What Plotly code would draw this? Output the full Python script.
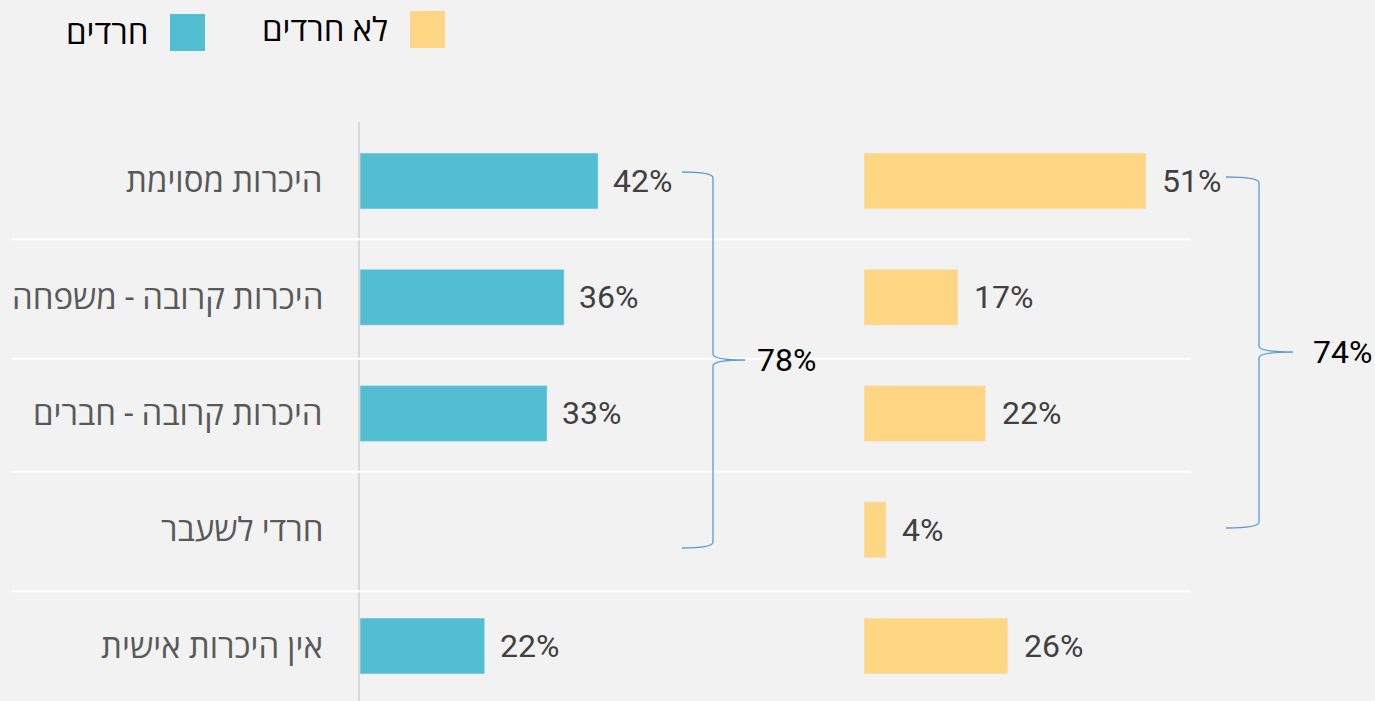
import plotly.graph_objects as go

# ---------------- data ----------------
categories = ["היכרות מסוימת", "היכרות קרובה - משפחה", "היכרות קרובה - חברים",
              "חרדי לשעבר", "אין היכרות אישית"]
series_names = ["חרדים", "לא חרדים"]
haredi = [42, 36, 33, None, 22]
non_haredi = [51, 17, 22, 4, 26]
haredi_total = 78
non_haredi_total = 74

# ---------------- styling ----------------
W, H = 1375, 701
BG = "#f2f2f2"
BLUE = "#53bdd2"
YELLOW = "#ffd784"
BRACE = "#5b9bd5"
FONT = "Roboto, 'Open Sans', sans-serif"


def fx(px):
    return px / W


def fy(py):
    return 1 - py / H


ypos = list(range(len(categories)))

fig = go.Figure()
fig.add_trace(go.Bar(y=ypos, x=haredi, orientation="h", marker_color=BLUE,
                     width=0.48, name=series_names[0], xaxis="x", yaxis="y",
                     showlegend=False, hoverinfo="skip"))
fig.add_trace(go.Bar(y=ypos, x=non_haredi, orientation="h", marker_color=YELLOW,
                     width=0.48, name=series_names[1], xaxis="x2", yaxis="y",
                     showlegend=False, hoverinfo="skip"))

annotations = []
# category labels
for i, c in enumerate(categories):
    annotations.append(dict(x=fx(325), xref="paper", y=i, yref="y", text=c,
                            xanchor="right", yanchor="middle", showarrow=False,
                            font=dict(size=33, color="#595959", family=FONT)))
# value labels
for i, v in enumerate(haredi):
    if v is not None:
        annotations.append(dict(x=v, xref="x", y=i, yref="y", text=f"{v}%",
                                xanchor="left", yanchor="middle", xshift=13,
                                showarrow=False,
                                font=dict(size=32, color="#404040", family=FONT)))
for i, v in enumerate(non_haredi):
    if v is not None:
        annotations.append(dict(x=v, xref="x2", y=i, yref="y", text=f"{v}%",
                                xanchor="left", yanchor="middle", xshift=14,
                                showarrow=False,
                                font=dict(size=32, color="#404040", family=FONT)))

# brace labels
annotations.append(dict(x=fx(755), xref="paper", y=fy(360), yref="paper",
                        text=f"{haredi_total}%", xanchor="left", yanchor="middle",
                        showarrow=False, font=dict(size=32, color="#000000", family=FONT)))
annotations.append(dict(x=fx(1311), xref="paper", y=fy(352), yref="paper",
                        text=f"{non_haredi_total}%", xanchor="left", yanchor="middle",
                        showarrow=False, font=dict(size=32, color="#000000", family=FONT)))

# legend (RTL style: swatch on the right of text)
legend_items = [(series_names[1], YELLOW, 410, 11, 390), (series_names[0], BLUE, 170, 14, 150)]
shapes = []
for name, col, sx, sy, tx in legend_items:
    shapes.append(dict(type="rect", xref="paper", yref="paper",
                       x0=fx(sx), x1=fx(sx + 35), y0=fy(sy), y1=fy(sy + 37),
                       fillcolor=col, line=dict(width=0)))
    annotations.append(dict(x=fx(tx), xref="paper", y=fy(sy + 19), yref="paper",
                            text=name, xanchor="right", yanchor="middle",
                            showarrow=False,
                            font=dict(size=33, color="#000000", family=FONT)))

# separator lines between rows
for k in range(len(categories) - 1):
    off = 0.03 if k in (1, 3) else 0
    shapes.append(dict(type="line", xref="paper", yref="y",
                       x0=fx(12), x1=fx(1191), y0=k + 0.5 + off, y1=k + 0.5 + off,
                       line=dict(color="#ffffff", width=2), layer="above"))


def brace(x0, xv, xtip, ytop, ymid, ybot, r=6):
    pts = [
        f"M {fx(x0)},{fy(ytop)}",
        f"Q {fx(xv)},{fy(ytop)} {fx(xv)},{fy(ytop + r)}",
        f"L {fx(xv)},{fy(ymid - r)}",
        f"Q {fx(xv)},{fy(ymid)} {fx(xtip)},{fy(ymid)}",
        f"Q {fx(xv)},{fy(ymid)} {fx(xv)},{fy(ymid + r)}",
        f"L {fx(xv)},{fy(ybot - r)}",
        f"Q {fx(xv)},{fy(ybot)} {fx(x0)},{fy(ybot)}",
    ]
    return dict(type="path", xref="paper", yref="paper", path=" ".join(pts),
                line=dict(color=BRACE, width=1.3))


shapes.append(brace(682, 713, 745, 172, 360, 548))
shapes.append(brace(1226, 1259, 1293, 177, 352, 528))

# y mapping: category 0 at pixel 181, spacing 116.25, axis top at pixel 122
a, b = 181, 116.25
top_px = 122
y_top = (top_px - a) / b
y_bot = (H - a) / b

fig.update_layout(
    width=W, height=H,
    margin=dict(l=0, r=0, t=0, b=0),
    paper_bgcolor=BG, plot_bgcolor="rgba(0,0,0,0)",
    barmode="overlay",
    xaxis=dict(domain=[fx(360), 1], range=[0, (W - 360) / 5.67], visible=False,
               fixedrange=True),
    xaxis2=dict(domain=[fx(864), 1], range=[0, (W - 864) / 5.53], visible=False,
                anchor="y", fixedrange=True),
    yaxis=dict(domain=[0, 1 - top_px / H], range=[y_bot, y_top], showgrid=False,
               zeroline=False, showticklabels=False, showline=True,
               linecolor="#d9d9d9", linewidth=2, ticks="", fixedrange=True),
    shapes=shapes,
    annotations=annotations,
    showlegend=False,
    font=dict(family=FONT),
)

fig.write_html("out.html", config={"displayModeBar": False},
               post_script="document.body.style.margin='0';document.body.style.background='#f2f2f2';")
